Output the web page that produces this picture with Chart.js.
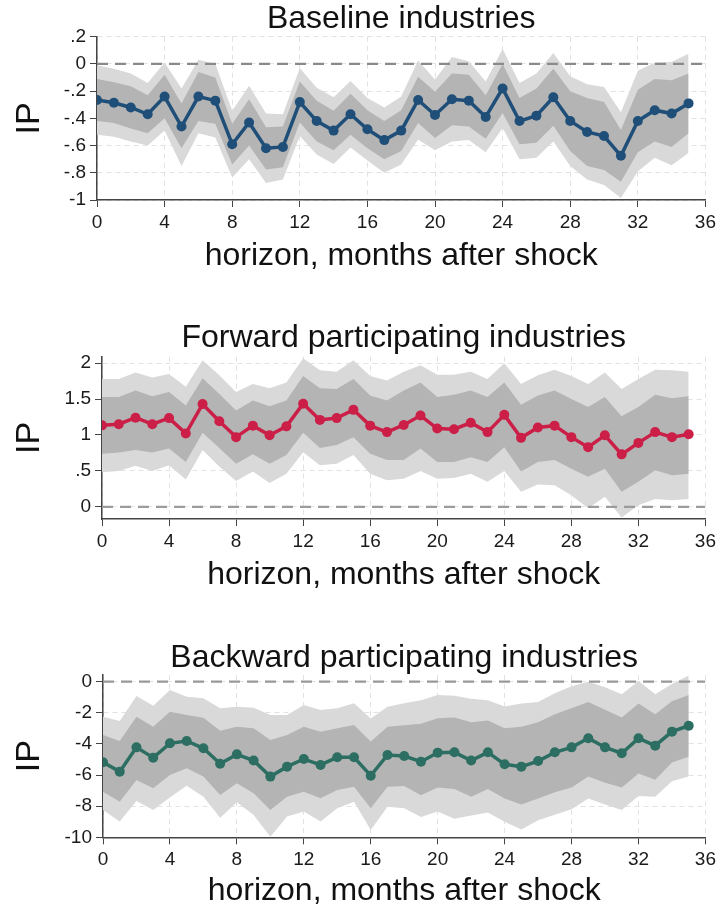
<!DOCTYPE html>
<html><head><meta charset="utf-8">
<script src="https://cdn.jsdelivr.net/npm/chart.js@4.4.1/dist/chart.umd.min.js"></script>
<style>
html,body{margin:0;padding:0;background:#fff;}
body{width:720px;height:910px;position:relative;overflow:hidden;}
canvas{position:absolute;left:0;}
</style></head><body>
<canvas id="c1" width="720" height="305" style="top:0px"></canvas>
<canvas id="c2" width="720" height="315" style="top:305px"></canvas>
<canvas id="c3" width="720" height="290" style="top:620px"></canvas>
<script>
// ---------- data ----------
const horizon = [0,1,2,3,4,5,6,7,8,9,10,11,12,13,14,15,16,17,18,19,20,21,22,23,24,25,26,27,28,29,30,31,32,33,34,35];
const xTicks = [0,4,8,12,16,20,24,28,32,36];

// Panel 1: Baseline industries
const baseCoef    = [-0.265,-0.285,-0.32,-0.37,-0.24,-0.46,-0.24,-0.27,-0.59,-0.43,-0.62,-0.61,-0.28,-0.42,-0.49,-0.37,-0.48,-0.56,-0.49,-0.265,-0.375,-0.26,-0.27,-0.39,-0.18,-0.42,-0.38,-0.245,-0.42,-0.50,-0.53,-0.675,-0.42,-0.34,-0.365,-0.29];
const baseInnerHi = [-0.11,-0.135,-0.165,-0.23,-0.08,-0.29,-0.06,-0.10,-0.44,-0.26,-0.465,-0.46,-0.13,-0.27,-0.345,-0.22,-0.34,-0.42,-0.34,-0.095,-0.205,-0.07,-0.08,-0.23,0.00,-0.25,-0.18,-0.035,-0.20,-0.25,-0.28,-0.485,-0.19,-0.11,-0.12,-0.07];
const baseInnerLo = [-0.42,-0.435,-0.475,-0.51,-0.40,-0.62,-0.42,-0.44,-0.74,-0.60,-0.775,-0.76,-0.43,-0.57,-0.635,-0.52,-0.62,-0.70,-0.64,-0.435,-0.545,-0.45,-0.46,-0.55,-0.36,-0.59,-0.58,-0.455,-0.64,-0.75,-0.78,-0.865,-0.65,-0.57,-0.61,-0.51];
const baseOuterHi = [-0.01,-0.035,-0.07,-0.14,0.01,-0.18,0.03,0.00,-0.345,-0.16,-0.365,-0.37,-0.03,-0.175,-0.245,-0.125,-0.25,-0.32,-0.24,0.025,-0.115,0.05,0.02,-0.13,0.11,-0.14,-0.07,0.08,-0.09,-0.15,-0.17,-0.355,-0.05,0.01,0.015,0.075];
const baseOuterLo = [-0.52,-0.535,-0.57,-0.60,-0.49,-0.75,-0.51,-0.54,-0.835,-0.70,-0.875,-0.85,-0.53,-0.665,-0.735,-0.615,-0.71,-0.80,-0.74,-0.555,-0.635,-0.57,-0.56,-0.65,-0.47,-0.70,-0.69,-0.57,-0.75,-0.85,-0.89,-0.985,-0.79,-0.69,-0.745,-0.655];
const baseYTicks = [-1,-0.8,-0.6,-0.4,-0.2,0,0.2];
const baseYLabels = ['-1','-.8','-.6','-.4','-.2','0','.2'];

// Panel 2: Forward participating industries
const fwdCoef    = [1.134,1.15,1.24,1.15,1.235,1.02,1.43,1.19,0.97,1.13,0.995,1.12,1.435,1.21,1.235,1.35,1.13,1.04,1.14,1.27,1.09,1.08,1.17,1.04,1.28,0.96,1.105,1.13,0.97,0.83,0.995,0.73,0.89,1.04,0.97,1.01];
const fwdInnerHi = [1.53,1.53,1.62,1.54,1.60,1.41,1.79,1.57,1.34,1.48,1.40,1.48,1.82,1.65,1.64,1.78,1.55,1.48,1.62,1.73,1.53,1.56,1.62,1.53,1.73,1.42,1.55,1.62,1.50,1.39,1.53,1.26,1.39,1.56,1.51,1.54];
const fwdInnerLo = [0.74,0.755,0.79,0.755,0.81,0.625,1.03,0.82,0.60,0.73,0.60,0.72,1.03,0.82,0.86,0.97,0.74,0.65,0.65,0.81,0.625,0.625,0.69,0.625,0.83,0.49,0.625,0.65,0.53,0.42,0.53,0.21,0.35,0.51,0.44,0.46];
const fwdOuterHi = [1.78,1.78,1.87,1.80,1.85,1.67,2.04,1.83,1.60,1.71,1.65,1.73,2.07,1.90,1.88,2.04,1.82,1.76,1.88,1.97,1.84,1.84,1.88,1.78,2.00,1.71,1.83,1.91,1.82,1.71,1.87,1.64,1.78,1.91,1.90,1.88];
const fwdOuterLo = [0.48,0.50,0.57,0.50,0.58,0.38,0.79,0.56,0.36,0.49,0.33,0.46,0.76,0.58,0.60,0.72,0.46,0.37,0.39,0.50,0.39,0.40,0.46,0.35,0.50,0.21,0.31,0.30,0.16,-0.02,0.14,-0.15,0.02,0.11,0.09,0.11];
const fwdYTicks = [0,0.5,1,1.5,2];
const fwdYLabels = ['0','.5','1','1.5','2'];

// Panel 3: Backward participating industries
const bwdCoef    = [-5.18,-5.78,-4.22,-4.88,-3.96,-3.81,-4.28,-5.27,-4.67,-5.07,-6.10,-5.46,-4.97,-5.35,-4.86,-4.86,-6.04,-4.71,-4.78,-5.14,-4.56,-4.54,-5.07,-4.54,-5.31,-5.46,-5.10,-4.54,-4.22,-3.64,-4.22,-4.60,-3.64,-4.11,-3.21,-2.83];
const bwdInnerHi = [-3.43,-3.81,-2.25,-2.89,-1.93,-2.14,-2.31,-3.15,-2.89,-3.00,-3.75,-3.43,-2.89,-3.21,-3.00,-2.78,-3.85,-2.89,-2.80,-2.70,-2.35,-2.30,-2.60,-2.50,-3.00,-2.90,-2.60,-2.10,-1.70,-1.30,-1.80,-2.30,-1.40,-2.10,-1.25,-0.86];
const bwdInnerLo = [-7.07,-7.71,-6.32,-6.85,-6.00,-5.57,-6.10,-7.28,-6.53,-7.17,-8.24,-7.39,-7.07,-7.49,-6.96,-6.75,-8.14,-6.75,-6.70,-7.30,-6.80,-6.90,-7.40,-6.90,-7.50,-7.90,-7.50,-7.10,-6.80,-6.10,-6.50,-6.80,-5.90,-6.30,-5.20,-4.82];
const bwdOuterHi = [-2.25,-2.53,-0.92,-1.54,-0.54,-0.96,-1.07,-1.71,-1.61,-1.67,-2.14,-2.14,-1.50,-1.82,-1.71,-1.39,-2.36,-1.61,-1.39,-1.20,-0.85,-0.90,-1.10,-1.20,-1.60,-1.40,-1.30,-0.75,-0.30,0.00,-0.35,-0.80,0.05,-0.80,-0.15,0.40];
const bwdOuterLo = [-8.24,-8.99,-7.67,-8.24,-7.45,-6.68,-7.39,-8.74,-7.75,-8.57,-9.96,-8.67,-8.35,-8.99,-8.14,-7.71,-9.53,-8.03,-8.14,-8.70,-8.35,-8.80,-8.60,-8.40,-9.00,-9.50,-8.90,-8.55,-8.20,-7.50,-7.90,-8.25,-7.35,-7.40,-6.40,-6.10];
const bwdYTicks = [-10,-8,-6,-4,-2,0];
const bwdYLabels = ['-10','-8','-6','-4','-2','0'];

// ---------- chart builder ----------
const FONT = "'Liberation Sans', Arial, sans-serif";
const pts = arr => horizon.map((h, i) => ({x: h, y: arr[i]}));

function makePanel(id, cfg) {
  const ctx = document.getElementById(id);
  new Chart(ctx, {
    type: 'line',
    data: {
      datasets: [
        {data: pts(cfg.coef), borderColor: cfg.color, backgroundColor: cfg.color, borderWidth: 3.5,
         pointRadius: 5, pointBackgroundColor: cfg.color, pointBorderWidth: 0, tension: 0, order: 0, fill: false},
        {data: [{x: 0, y: 0}, {x: 36, y: 0}], borderColor: cfg.zeroColor, borderWidth: 2.2, borderDash: [11, 7],
         pointRadius: 0, order: 1, fill: false},
        {data: pts(cfg.innerLo), borderWidth: 0, borderColor: 'rgba(0,0,0,0)', pointRadius: 0, order: 2, fill: false},
        {data: pts(cfg.innerHi), borderWidth: 0, borderColor: 'rgba(0,0,0,0)', pointRadius: 0, order: 2,
         fill: '-1', backgroundColor: '#b4b4b4'},
        {data: pts(cfg.outerLo), borderWidth: 0, borderColor: 'rgba(0,0,0,0)', pointRadius: 0, order: 3, fill: false},
        {data: pts(cfg.outerHi), borderWidth: 0, borderColor: 'rgba(0,0,0,0)', pointRadius: 0, order: 3,
         fill: '-1', backgroundColor: '#d9d9d9'}
      ]
    },
    options: {
      responsive: false,
      animation: false,
      devicePixelRatio: 1,
      layout: {padding: {left: 0, right: cfg.padRight, top: cfg.padTop, bottom: cfg.padBottom}},
      plugins: {
        legend: {display: false},
        tooltip: {enabled: false},
        title: {display: true, text: cfg.title, fullSize: false, color: '#111',
                font: {family: FONT, size: 32, weight: 'normal', lineHeight: 1},
                padding: {top: 3, bottom: cfg.titlePadBottom}}
      },
      scales: {
        x: {
          type: 'linear', min: 0, max: 36,
          afterBuildTicks: s => { s.ticks = xTicks.map(v => ({value: v})); },
          afterFit: s => { s.height = cfg.xHeight; },
          ticks: {callback: v => String(v), font: {family: FONT, size: 19}, color: '#1a1a1a', padding: 4, maxRotation: 0, autoSkip: false},
          grid: {color: '#e2e2e2', lineWidth: 1, tickColor: '#444', tickLength: 7, drawTicks: true},
          border: {display: true, color: '#444', width: 1.5, dash: [5, 4]},
          title: {display: true, text: 'horizon, months after shock', color: '#111',
                  font: {family: FONT, size: 32, lineHeight: 1}, padding: {top: 0, bottom: 3}}
        },
        y: {
          type: 'linear', min: cfg.yMin, max: cfg.yMax,
          afterBuildTicks: s => { s.ticks = cfg.yTicks.map(v => ({value: v})); },
          afterFit: s => { s.width = cfg.yWidth; },
          ticks: {callback: (v, i) => cfg.yLabels[i], font: {family: FONT, size: 19}, color: '#1a1a1a', padding: 4, autoSkip: false},
          grid: {color: '#e2e2e2', lineWidth: 1, tickColor: '#444', tickLength: 7, drawTicks: true},
          border: {display: true, color: '#444', width: 1.5, dash: [5, 4]},
          title: {display: true, text: 'IP', color: '#111',
                  font: {family: FONT, size: 34, lineHeight: 1}, padding: {top: 13, bottom: 0}}
        }
      }
    }
  });
}

makePanel('c1', {title: 'Baseline industries', coef: baseCoef, innerHi: baseInnerHi, innerLo: baseInnerLo,
  outerHi: baseOuterHi, outerLo: baseOuterLo, color: '#1f4f78', zeroColor: '#8a8a8a',
  yMin: -1, yMax: 0.2, yTicks: baseYTicks, yLabels: baseYLabels,
  yWidth: 97, padRight: 11.5, padTop: 0, titlePadBottom: 1.7, padBottom: 30, xHeight: 75});

makePanel('c2', {title: 'Forward participating industries', coef: fwdCoef, innerHi: fwdInnerHi, innerLo: fwdInnerLo,
  outerHi: fwdOuterHi, outerLo: fwdOuterLo, color: '#cb1f48', zeroColor: '#9c9c9c',
  yMin: -0.17, yMax: 2.09, yTicks: fwdYTicks, yLabels: fwdYLabels,
  yWidth: 102, padRight: 13, padTop: 14, titlePadBottom: 2.7, padBottom: 26, xHeight: 75});

makePanel('c3', {title: 'Backward participating industries', coef: bwdCoef, innerHi: bwdInnerHi, innerLo: bwdInnerLo,
  outerHi: bwdOuterHi, outerLo: bwdOuterLo, color: '#2c6e62', zeroColor: '#999999',
  yMin: -10, yMax: 0.43, yTicks: bwdYTicks, yLabels: bwdYLabels,
  yWidth: 103, padRight: 13.5, padTop: 19, titlePadBottom: 1, padBottom: 0, xHeight: 72.7});
</script>
</body></html>
